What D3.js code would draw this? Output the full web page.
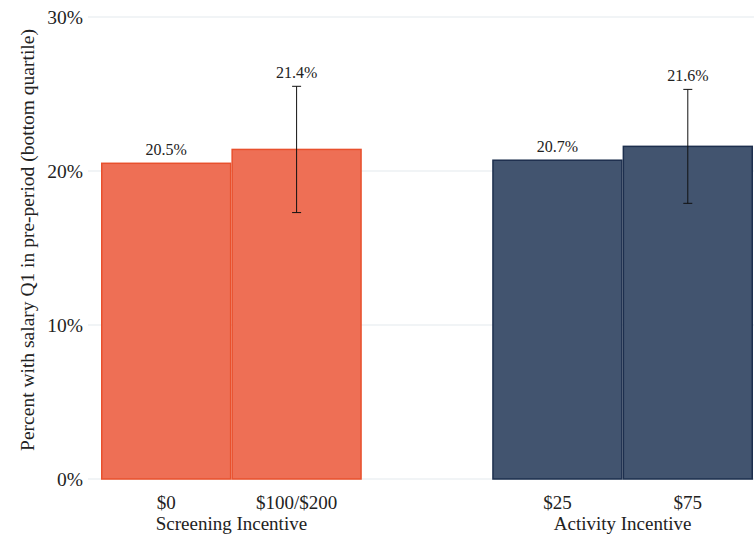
<!DOCTYPE html>
<html>
<head>
<meta charset="utf-8">
<script src="https://cdn.jsdelivr.net/npm/d3@7"></script>
<style>
  html, body { margin: 0; padding: 0; background: #fff; }
  svg { display: block; }
  svg text { font-family: "Liberation Serif", "Times New Roman", serif; }
</style>
</head>
<body>
<svg id="chart" width="754" height="534"></svg>
<script>
const categories = ["$0", "$100/$200", "$25", "$75"];
const groups = ["Screening Incentive", "Screening Incentive", "Activity Incentive", "Activity Incentive"];
const values = [20.5, 21.4, 20.7, 21.6];
const errLow = [null, 17.3, null, 17.9];
const errHigh = [null, 25.5, null, 25.3];
const groupNames = ["Screening Incentive", "Activity Incentive"];
const yTicks = [0, 10, 20, 30];

const fills = {"Screening Incentive": "#EE6F55", "Activity Incentive": "#42546F"};
const strokes = {"Screening Incentive": "#E8502D", "Activity Incentive": "#1D2F4E"};

const svg = d3.select("#chart");
const slots = [categories[0], categories[1], "__gap__", categories[2], categories[3]];
const x = d3.scaleBand().domain(slots).range([101, 753]).padding(0);
const y = d3.scaleLinear().domain([0, 30]).range([479, 17]);

// gridlines
svg.append("g").selectAll("line").data(yTicks).join("line")
  .attr("x1", 88).attr("x2", 754)
  .attr("y1", d => y(d)).attr("y2", d => y(d))
  .attr("stroke", "#EDF0F3").attr("stroke-width", 1.5);

// y axis labels
const yAxis = d3.axisLeft(y).tickValues(yTicks).tickFormat(d => d + "%").tickSize(0).tickPadding(0);
const gy = svg.append("g").attr("transform", "translate(83,0)").call(yAxis);
gy.select(".domain").remove();
gy.attr("font-family", null);
gy.selectAll("text").attr("font-size", 19.5).attr("fill", "#222");

// y title
svg.append("text")
  .attr("transform", `translate(34,${y(15) - 8}) rotate(-90)`)
  .attr("text-anchor", "middle")
  .attr("font-size", 19.5).attr("fill", "#222")
  .text("Percent with salary Q1 in pre-period (bottom quartile)");

const data = categories.map((c, i) => ({c, g: groups[i], v: values[i], lo: errLow[i], hi: errHigh[i]}));

// bars
svg.append("g").selectAll("rect").data(data).join("rect")
  .attr("x", d => x(d.c) + 0.75)
  .attr("width", x.bandwidth() - 1.5)
  .attr("y", d => y(d.v))
  .attr("height", d => y(0) - y(d.v))
  .attr("fill", d => fills[d.g])
  .attr("stroke", d => strokes[d.g])
  .attr("stroke-width", 1.5);

// error bars
const eb = svg.append("g").selectAll("g").data(data.filter(d => d.lo != null)).join("g")
  .attr("stroke", "#111").attr("stroke-width", 1);
eb.append("line")
  .attr("x1", d => x(d.c) + x.bandwidth() / 2).attr("x2", d => x(d.c) + x.bandwidth() / 2)
  .attr("y1", d => y(d.hi)).attr("y2", d => y(d.lo));
eb.append("line")
  .attr("x1", d => x(d.c) + x.bandwidth() / 2 - 4.5).attr("x2", d => x(d.c) + x.bandwidth() / 2 + 4.5)
  .attr("y1", d => y(d.hi)).attr("y2", d => y(d.hi));
eb.append("line")
  .attr("x1", d => x(d.c) + x.bandwidth() / 2 - 4.5).attr("x2", d => x(d.c) + x.bandwidth() / 2 + 4.5)
  .attr("y1", d => y(d.lo)).attr("y2", d => y(d.lo));

// value labels
svg.append("g").selectAll("text").data(data).join("text")
  .attr("x", d => x(d.c) + x.bandwidth() / 2)
  .attr("y", d => y(d.hi != null ? d.hi : d.v) - 8)
  .attr("text-anchor", "middle")
  .attr("font-size", 16).attr("fill", "#222")
  .text(d => d.v.toFixed(1) + "%");

// x axis tick labels
const xAxis = d3.axisBottom(x).tickValues(categories).tickSize(0).tickPadding(0);
const gx = svg.append("g").attr("transform", "translate(0,509)").call(xAxis);
gx.select(".domain").remove();
gx.attr("font-family", null);
gx.selectAll("text").attr("font-size", 19).attr("fill", "#222").attr("dy", 0).attr("y", 0);

// group labels
svg.append("g").selectAll("text").data(groupNames).join("text")
  .attr("x", g => {
    const cs = data.filter(d => d.g === g).map(d => d.c);
    return (x(cs[0]) + x(cs[cs.length - 1]) + x.bandwidth()) / 2;
  })
  .attr("y", 530)
  .attr("text-anchor", "middle")
  .attr("font-size", 19).attr("fill", "#222")
  .text(g => g);
</script>
</body>
</html>
